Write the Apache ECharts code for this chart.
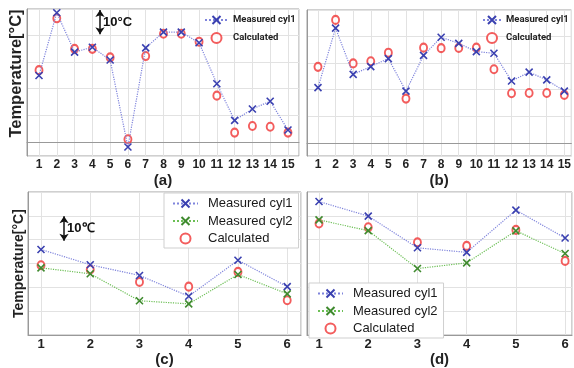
<!DOCTYPE html>
<html><head><meta charset="utf-8">
<script src="https://cdn.jsdelivr.net/npm/echarts@6/dist/echarts.min.js"></script>
<style>html,body{margin:0;padding:0;background:#fff}#c{width:574px;height:368px}</style>
</head><body><div id="c"></div>
<script>
// ---------- data ----------
const cylAB = [1,2,3,4,5,6,7,8,9,10,11,12,13,14,15];
const cylCD = [1,2,3,4,5,6];

const aMeasured1  = [25.0,48.6,33.8,35.6,30.8,-1.9,35.4,41.3,41.3,37.3,21.9,8.1,12.4,15.3,4.5];
const aCalculated = [27.0,46.5,35.0,35.0,31.8,1.0,32.3,40.7,40.7,37.7,17.4,3.5,6.0,5.7,3.5];

const bMeasured1  = [20.7,43.0,25.7,28.6,31.6,19.4,32.8,39.6,37.3,34.2,33.6,23.2,26.5,23.6,19.4];
const bCalculated = [28.5,46.1,29.8,30.6,33.8,16.6,35.7,35.5,35.6,35.7,27.6,18.6,18.7,18.7,18.0];

const cMeasured1  = [35.9,29.5,25.0,16.3,31.4,20.3];
const cMeasured2  = [28.2,25.7,14.4,13.1,25.4,17.3];
const cCalculated = [29.3,27.5,22.3,20.3,26.5,14.6];

const dMeasured1  = [56.0,49.9,36.6,34.7,52.4,40.7];
const dMeasured2  = [48.3,43.8,27.9,30.3,43.7,34.2];
const dCalculated = [46.8,45.2,38.9,37.4,44.1,31.1];

const captions = ['(a)','(b)','(c)','(d)'];
const yTitle = 'Temperature[°C]';
const seriesNames = ['Measured cyl1','Measured cyl2','Calculated'];

// ---------- styling ----------
const X_PATH = 'path://M0,0L10,10M10,0L0,10';
const BLUE_LINE = '#7f84dc', BLUE_MARK = '#3a40b0';
const GREEN_LINE = '#6cbf55', GREEN_MARK = '#3f8a2e';
const RED = '#f03535';
const FONT = 'Liberation Sans, Arial, sans-serif';
const NARROW = "Roboto, 'Liberation Sans', sans-serif";

const pairs = (cats, vals) => cats.map((c, i) => [c, vals[i]]);

function measured(name, idx, cats, vals, lineColor, markColor, extra) {
  return Object.assign({
    type: 'line', name, xAxisIndex: idx, yAxisIndex: idx,
    data: pairs(cats, vals), symbol: X_PATH, symbolSize: 7,
    lineStyle: { color: lineColor, width: 1.2, type: 'dotted' },
    itemStyle: { color: 'rgba(0,0,0,0)', borderColor: markColor, borderWidth: 1.6 },
    z: 3
  }, extra || {});
}
function calc(idx, cats, vals) {
  return {
    type: 'scatter', name: 'Calculated', xAxisIndex: idx, yAxisIndex: idx,
    data: pairs(cats, vals), symbol: 'emptyCircle', symbolSize: [7, 8],
    itemStyle: { color: RED, borderColor: RED, borderWidth: 1.4 }, z: 2
  };
}
function arrow(idx, x, y0, y1, text) {
  return {
    markLine: {
      silent: true, symbol: ['arrow', 'arrow'], symbolSize: [7, 7],
      lineStyle: { color: '#111', type: 'solid', width: 1.5 },
      label: { show: false }, emphasis: { disabled: true },
      data: [[{ coord: [x, y0] }, { coord: [x, y1] }]]
    },
    markPoint: {
      silent: true, symbol: 'circle', symbolSize: 0,
      label: { show: true, position: 'right', distance: 3, formatter: text,
        fontFamily: FONT, fontWeight: 'bold', fontSize: 13, color: '#111' },
      data: [{ coord: [x, (y0 + y1) / 2] }]
    }
  };
}

const grids = [
  { left: 27,  top: 9,   width: 272, height: 147 },
  { left: 307, top: 10,  width: 265, height: 146 },
  { left: 28,  top: 192, width: 273, height: 147 },
  { left: 307, top: 192, width: 265, height: 147 }
].map(g => Object.assign({ show: true, borderColor: '#a0a0a0', borderWidth: 1, backgroundColor: '#fff' }, g));

const xRanges = [[0.325, 15.62], [0.376, 15.4], [0.736, 6.28], [0.756, 6.14]];
const yRanges = [[-5.3, 50], [-4.9, 49.8], [0, 60], [0, 60]];
const nameGaps = [17, 17, 12, 12];
const tickFont = [12, 12, 13, 13];

const xAxis = xRanges.map((r, i) => ({
  type: 'value', gridIndex: i, min: r[0], max: r[1], minInterval: 1, maxInterval: 1,
  axisLine: { show: true, lineStyle: { color: '#999' } },
  axisTick: { show: false },
  axisLabel: { margin: 3, fontFamily: FONT, fontWeight: 'bold', fontSize: tickFont[i], color: '#222',
    showMinLabel: false, showMaxLabel: false,
    formatter: v => Number.isInteger(v) ? String(v) : '' },
  splitLine: { show: true, lineStyle: { color: '#e2e2e2', width: 1 } },
  name: captions[i], nameLocation: 'middle', nameGap: nameGaps[i],
  nameTextStyle: { fontFamily: FONT, fontWeight: 'bold', fontSize: 15, color: '#222' }
}));
const yAxis = yRanges.map((r, i) => ({
  type: 'value', gridIndex: i, min: r[0], max: r[1], minInterval: 10, maxInterval: 10,
  axisLine: { show: true, lineStyle: { color: '#999' } },
  axisTick: { show: false }, axisLabel: { show: false },
  splitLine: { show: true, lineStyle: { color: '#e2e2e2', width: 1 } },
  name: (i === 0 || i === 2) ? yTitle : '', nameLocation: 'middle', nameGap: 2, nameRotate: 90,
  nameTextStyle: { fontFamily: FONT, fontWeight: 'bold', fontSize: i === 0 ? 16.5 : 14, color: '#222',
    padding: i === 0 ? [0, 0, 0, 18] : 0 }
}));

const series = [
  measured('Measured cyl1', 0, cylAB, aMeasured1, BLUE_LINE, BLUE_MARK, arrow(0, 4.43, 40.5, 49.6, '10°C')),
  calc(0, cylAB, aCalculated),
  measured('Measured cyl1', 1, cylAB, bMeasured1, BLUE_LINE, BLUE_MARK),
  calc(1, cylAB, bCalculated),
  measured('Measured cyl1', 2, cylCD, cMeasured1, BLUE_LINE, BLUE_MARK, arrow(2, 1.468, 39.6, 49.8, '10℃')),
  measured('Measured cyl2', 2, cylCD, cMeasured2, GREEN_LINE, GREEN_MARK),
  calc(2, cylCD, cCalculated),
  measured('Measured cyl1', 3, cylCD, dMeasured1, BLUE_LINE, BLUE_MARK),
  measured('Measured cyl2', 3, cylCD, dMeasured2, GREEN_LINE, GREEN_MARK),
  calc(3, cylCD, dCalculated)
];

const smallLegend = (left, top, w) => ({
  orient: 'vertical', left, top, itemWidth: w, itemHeight: 10, itemGap: 7, padding: 0,
  selectedMode: false, data: [seriesNames[0], seriesNames[2]],
  textStyle: { fontFamily: NARROW, fontWeight: 'bold', fontSize: 9.5, color: '#222' }
});
const boxLegend = (left, top) => ({
  orient: 'vertical', left, top, itemWidth: 25, itemHeight: 10, itemGap: 4.5,
  selectedMode: false, data: seriesNames,
  backgroundColor: '#fff', borderColor: '#cfcfcf', borderWidth: 1, padding: [4, 6, 3, 8],
  textStyle: { fontFamily: FONT, fontSize: 13, color: '#1a1a1a', padding: [0, 0, 0, 5] }
});

const chart = echarts.init(document.getElementById('c'), null, { renderer: 'canvas' });
chart.setOption({
  animation: false,
  backgroundColor: '#fff',
  grid: grids, xAxis, yAxis, series,
  legend: [smallLegend(204, 15, 23), smallLegend(482, 15, 18), boxLegend(164, 193), boxLegend(309, 283)]
});
</script></body></html>
